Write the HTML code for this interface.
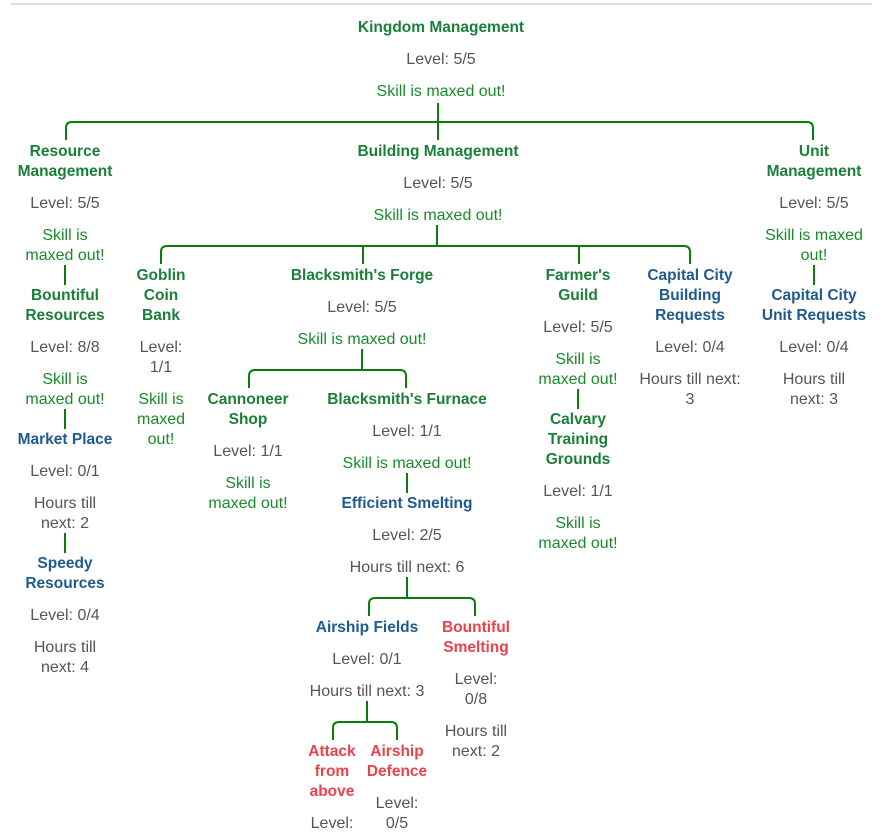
<!DOCTYPE html>
<html><head><meta charset="utf-8"><style>
body{margin:0;width:895px;height:837px;overflow:hidden;background:#fff;position:relative;font-family:"Liberation Sans",sans-serif;}
.t{position:absolute;width:200px;text-align:center;font-size:16px;line-height:20px;color:#555;white-space:nowrap;margin-top:1px}
.g{color:#1a7f37;font-weight:bold;font-size:15.5px}
.b{color:#1f5a8f;font-weight:bold;font-size:15.5px}
.r{color:#e8434d;font-weight:bold;font-size:15.5px}
.s{color:#1a8a2a}
svg{position:absolute;left:0;top:0}
</style></head><body>
<div style="position:absolute;left:11px;top:3px;width:861px;height:2px;background:#ddd"></div>
<svg width="895" height="837" fill="none" stroke="#0a7d0a" stroke-width="2">
<path d="M438 103V122M66 140V128Q66 122 72 122H807Q813 122 813 128V140M438 122V140"/>
<path d="M65 265V285M65 409V429M65 533V553M814 265V285"/>
<path d="M437 225V246M161 264V252Q161 246 167 246H684Q690 246 690 252V264M363 246V264M579 246V264"/>
<path d="M362 349V370M249 388V376Q249 370 255 370H400Q406 370 406 376V388"/>
<path d="M407 473V493M407 577V598M369 616V604Q369 598 375 598H469Q475 598 475 604V616"/>
<path d="M367 701V722M333 740V728Q333 722 339 722H391Q397 722 397 728V740"/>
<path d="M578 389V409"/>
</svg>
<div class="t g" style="left:341px;top:17px">Kingdom Management</div>
<div class="t" style="left:341px;top:49px">Level: 5/5</div>
<div class="t s" style="left:341px;top:81px">Skill is maxed out!</div>

<div class="t g" style="left:-35px;top:141px">Resource<br>Management</div>
<div class="t" style="left:-35px;top:193px">Level: 5/5</div>
<div class="t s" style="left:-35px;top:225px">Skill is<br>maxed out!</div>
<div class="t g" style="left:-35px;top:285px">Bountiful<br>Resources</div>
<div class="t" style="left:-35px;top:337px">Level: 8/8</div>
<div class="t s" style="left:-35px;top:369px">Skill is<br>maxed out!</div>
<div class="t b" style="left:-35px;top:429px">Market Place</div>
<div class="t" style="left:-35px;top:461px">Level: 0/1</div>
<div class="t" style="left:-35px;top:493px">Hours till<br>next: 2</div>
<div class="t b" style="left:-35px;top:553px">Speedy<br>Resources</div>
<div class="t" style="left:-35px;top:605px">Level: 0/4</div>
<div class="t" style="left:-35px;top:637px">Hours till<br>next: 4</div>

<div class="t g" style="left:338px;top:141px">Building Management</div>
<div class="t" style="left:338px;top:173px">Level: 5/5</div>
<div class="t s" style="left:338px;top:205px">Skill is maxed out!</div>

<div class="t g" style="left:61px;top:265px">Goblin<br>Coin<br>Bank</div>
<div class="t" style="left:61px;top:337px">Level:<br>1/1</div>
<div class="t s" style="left:61px;top:389px">Skill is<br>maxed<br>out!</div>

<div class="t g" style="left:262px;top:265px">Blacksmith's Forge</div>
<div class="t" style="left:262px;top:297px">Level: 5/5</div>
<div class="t s" style="left:262px;top:329px">Skill is maxed out!</div>

<div class="t g" style="left:148px;top:389px">Cannoneer<br>Shop</div>
<div class="t" style="left:148px;top:441px">Level: 1/1</div>
<div class="t s" style="left:148px;top:473px">Skill is<br>maxed out!</div>

<div class="t g" style="left:307px;top:389px">Blacksmith's Furnace</div>
<div class="t" style="left:307px;top:421px">Level: 1/1</div>
<div class="t s" style="left:307px;top:453px">Skill is maxed out!</div>
<div class="t b" style="left:307px;top:493px">Efficient Smelting</div>
<div class="t" style="left:307px;top:525px">Level: 2/5</div>
<div class="t" style="left:307px;top:557px">Hours till next: 6</div>

<div class="t b" style="left:267px;top:617px">Airship Fields</div>
<div class="t" style="left:267px;top:649px">Level: 0/1</div>
<div class="t" style="left:267px;top:681px">Hours till next: 3</div>
<div class="t r" style="left:232px;top:741px">Attack<br>from<br>above</div>
<div class="t" style="left:232px;top:813px">Level:</div>
<div class="t r" style="left:297px;top:741px">Airship<br>Defence</div>
<div class="t" style="left:297px;top:793px">Level:<br>0/5</div>
<div class="t r" style="left:376px;top:617px">Bountiful<br>Smelting</div>
<div class="t" style="left:376px;top:669px">Level:<br>0/8</div>
<div class="t" style="left:376px;top:721px">Hours till<br>next: 2</div>

<div class="t g" style="left:478px;top:265px">Farmer's<br>Guild</div>
<div class="t" style="left:478px;top:317px">Level: 5/5</div>
<div class="t s" style="left:478px;top:349px">Skill is<br>maxed out!</div>
<div class="t g" style="left:478px;top:409px">Calvary<br>Training<br>Grounds</div>
<div class="t" style="left:478px;top:481px">Level: 1/1</div>
<div class="t s" style="left:478px;top:513px">Skill is<br>maxed out!</div>

<div class="t b" style="left:590px;top:265px">Capital City<br>Building<br>Requests</div>
<div class="t" style="left:590px;top:337px">Level: 0/4</div>
<div class="t" style="left:590px;top:369px">Hours till next:<br>3</div>

<div class="t g" style="left:714px;top:141px">Unit<br>Management</div>
<div class="t" style="left:714px;top:193px">Level: 5/5</div>
<div class="t s" style="left:714px;top:225px">Skill is maxed<br>out!</div>
<div class="t b" style="left:714px;top:285px">Capital City<br>Unit Requests</div>
<div class="t" style="left:714px;top:337px">Level: 0/4</div>
<div class="t" style="left:714px;top:369px">Hours till<br>next: 3</div>
</body></html>
